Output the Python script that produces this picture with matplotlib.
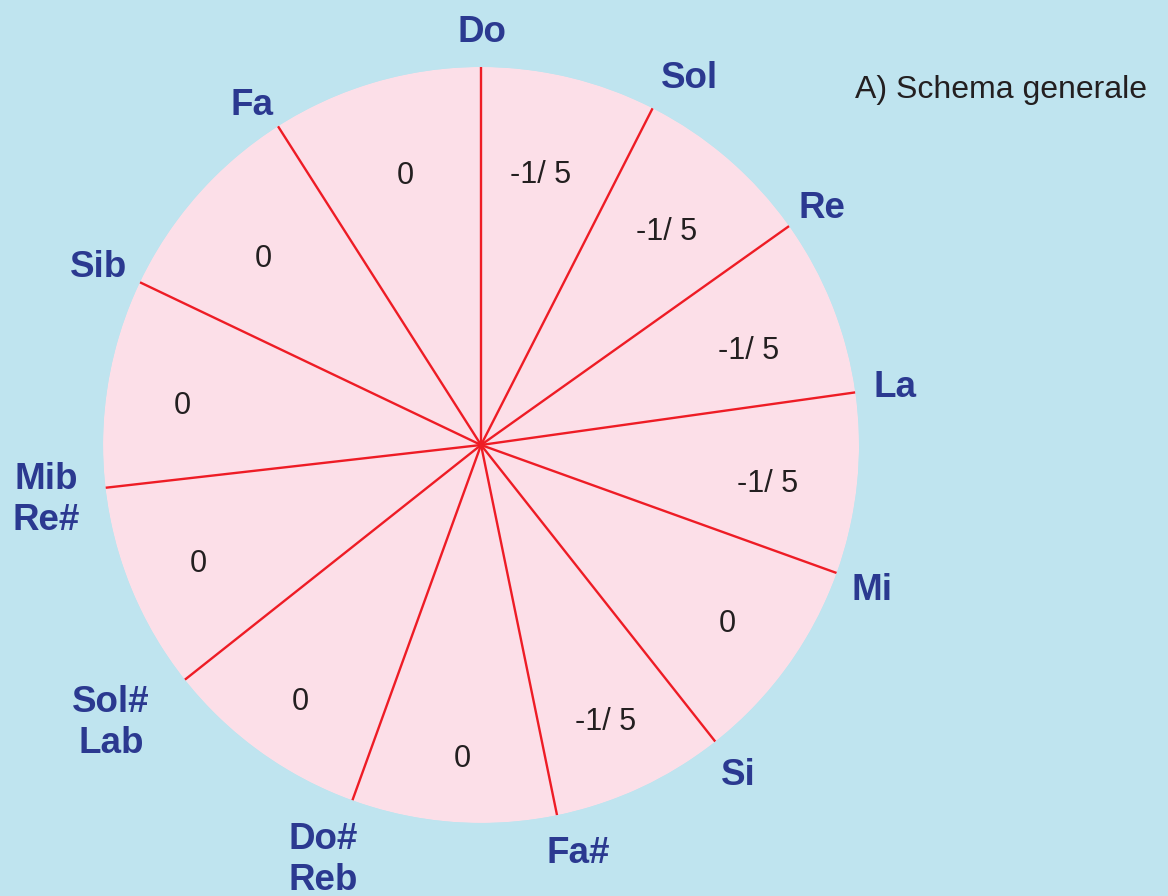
import numpy as np
import matplotlib
matplotlib.use("Agg")
import matplotlib.pyplot as plt
from matplotlib.transforms import offset_copy

# ---- data ----
notes = ["Do", "Sol", "Re", "La", "Mi", "Si", "Fa#",
         "Do#\nReb", "Sol#\nLab", "Mib\nRe#", "Sib", "Fa"]
# deviation of each fifth (sector between a note and the next one clockwise)
deviations = ["-1/ 5", "-1/ 5", "-1/ 5", "-1/ 5", "0", "-1/ 5",
              "0", "0", "0", "0", "0", "0"]
# angular size of each sector, degrees
sector_deg = [27.0, 27.6, 27.4, 27.8, 31.9, 26.7,
              31.5, 31.7, 31.9, 32.0, 32.0, 32.5]
title = "A) Schema generale"

# ---- styles / placement ----
BG = "#BFE4EF"
PINK = "#FCDFE8"
RED = "#EE1C25"
BLUE = "#2B3990"
DARK = "#231F20"
FONT = ["Liberation Sans", "DejaVu Sans"]
# note label placement: (angle offset in degrees, radius)
label_pos = [(0.1, 1.098), (2.5, 1.122), (0.3, 1.103), (-0.25, 1.107),
             (0.3, 1.101), (0.2, 1.102), (-1.8, 1.104), (1.1, 1.167),
             (1.8, 1.22), (-0.3, 1.159), (-0.2, 1.12), (-1.3, 1.089)]
# value text placement: (angle offset from sector middle in degrees, radius)
value_pos = [(-1.3, 0.739), (-0.1, 0.754), (1.8, 0.752), (1.2, 0.765),
             (-0.15, 0.80), (0.45, 0.797), (-0.65, 0.824), (-0.25, 0.825),
             (0.15, 0.809), (-1.5, 0.799), (-0.6, 0.763), (0.65, 0.747)]

fig = plt.figure(figsize=(11.68, 8.96), dpi=100, facecolor=BG)
ax = fig.add_axes([0.0882, 0.0815, 0.6473, 0.84375], projection="polar")
ax.set_theta_zero_location("N")
ax.set_theta_direction(-1)
ax.set_ylim(0, 1)
ax.axis("off")

widths = np.radians(sector_deg)
starts = np.concatenate([[0.0], np.cumsum(widths)[:-1]])
mids = starts + widths / 2

ax.bar(mids, 1.0, width=widths, bottom=0, color=PINK, edgecolor="none",
       linewidth=0, align="center")

for th in starts:
    ax.plot([th, th], [0, 1], color=RED, lw=1.7, solid_capstyle="butt")

shift = offset_copy(ax.transData, fig=fig, x=0, y=-3, units="dots")

for th, name, (dang, r) in zip(starts, notes, label_pos):
    ax.text(th + np.radians(dang), r, name, ha="center", va="center",
            fontsize=26.5, fontweight="bold", color=BLUE, family=FONT,
            clip_on=False, linespacing=1.2, transform=shift)

for th, val, (dang, r) in zip(mids, deviations, value_pos):
    ax.text(th + np.radians(dang), r, val, ha="center", va="center",
            fontsize=22, color=DARK, family=FONT, transform=shift)

fig.text(1001 / 1168, 1 - 90 / 896, title, ha="center", va="center",
         fontsize=23, color=DARK, family=FONT)

fig.savefig("out.png", dpi=100, facecolor=BG)
